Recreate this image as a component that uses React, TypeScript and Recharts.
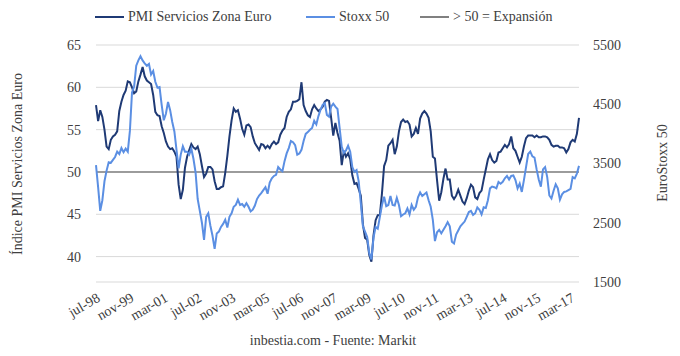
import React from 'react';
import { LineChart, Line, XAxis, YAxis, CartesianGrid, ReferenceLine } from 'recharts';

const MESES = ['ene', 'feb', 'mar', 'abr', 'may', 'jun', 'jul', 'ago', 'sep', 'oct', 'nov', 'dic'];

// PMI Servicios Zona Euro (jul-98 ... jul-17)
const pmi = [
  57.9, 56.0, 57.3, 56.5, 55.0, 53.0,
  52.7, 53.8, 54.2, 54.4, 54.8, 57.2, 58.3, 59.1, 59.6, 60.7, 60.6, 60.0,
  59.3, 59.5, 60.7, 61.5, 62.4, 61.3, 60.8, 60.6, 60.4, 59.1, 57.1, 56.7,
  56.6, 55.4, 54.6, 53.6, 53.0, 52.7, 52.8, 52.4, 51.8, 48.5, 46.8, 47.9,
  50.5, 51.8, 52.6, 53.3, 52.9, 52.7, 53.0, 52.1, 50.7, 49.4, 49.8, 50.6,
  50.6, 50.3, 48.9, 48.0, 48.0, 48.2, 48.3, 49.9, 51.9, 54.2, 56.1, 57.5,
  57.1, 57.3, 56.3, 55.1, 54.4, 55.5, 55.6, 55.3, 54.2, 53.4, 53.0, 52.6,
  53.3, 53.2, 52.8, 53.1, 52.8, 53.3, 53.6, 53.3, 53.5, 54.4, 54.9, 55.2,
  56.5, 57.1, 57.4, 58.3, 58.3, 58.4, 58.6, 60.6, 57.9, 57.2, 56.7, 56.5,
  57.4, 57.9, 57.5, 57.2, 57.4, 57.7, 58.3, 58.5, 58.4, 56.4, 54.3, 55.8,
  54.6, 53.7, 50.8, 52.5, 51.8, 52.2, 51.5, 49.6, 48.6, 48.7, 48.0, 47.2,
  43.8, 42.2, 42.0, 40.2, 39.4, 42.5, 44.3, 44.9, 44.9, 47.5, 50.7, 51.4,
  53.1, 53.4, 53.8, 52.1, 53.0, 54.8, 55.9, 56.2, 55.9, 56.0, 55.6, 54.2,
  54.5, 55.2, 54.5, 56.3, 56.9, 57.2, 56.9, 56.4, 54.8, 51.8, 51.6, 49.0,
  46.6, 47.6, 49.2, 50.4, 49.1, 49.1, 47.2, 46.8, 47.2, 47.9, 47.2, 46.5,
  46.2, 46.9, 47.8, 48.5, 48.2, 47.0, 46.8, 47.5, 47.8, 49.1, 50.3, 51.5,
  52.1, 51.4, 51.1, 51.3, 52.3, 52.4, 52.8, 53.2, 52.9, 53.3, 54.2, 52.8,
  52.5, 51.8, 51.1, 51.8, 53.0, 54.0, 54.3, 54.3, 54.3, 54.1, 54.3, 54.1,
  54.1, 54.2, 54.2, 54.1, 53.8, 53.2, 53.0, 53.1, 53.1, 52.9, 52.9, 52.8,
  52.3, 52.7, 53.5, 53.8, 53.6, 54.5, 56.4,
];

// Stoxx 50 (same months)
const stoxx = [
  3473, 3100, 2700, 2880, 3200, 3380,
  3520, 3510, 3560, 3610, 3700, 3660, 3760, 3690, 3750, 3700, 4050, 4700,
  4800, 5150, 5240, 5310, 5240, 5190, 5150, 5180, 5000, 5060, 4880, 4780,
  4790, 4490, 4230, 4340, 4540, 4400, 4200, 4040, 3730, 3420, 3650, 3790,
  3700, 3700, 3650, 3750, 3580, 3350, 2900, 2700, 2500, 2210, 2600, 2660,
  2450, 2280, 2060, 2320, 2350, 2430, 2480, 2550, 2420, 2600, 2660, 2770,
  2800, 2890, 2800, 2816, 2770, 2830, 2770, 2690, 2720, 2790, 2900, 2960,
  3000, 3050, 3100, 2990, 3180, 3250, 3290, 3310, 3440, 3400, 3370, 3540,
  3670, 3760, 3880, 3860, 3810, 3650, 3670, 3730, 3880, 4000, 4030, 4070,
  4100, 4220, 4160, 4300, 4410, 4490, 4520, 4320, 4290, 4460, 4510, 4460,
  4420, 4100, 3780, 3680, 3720, 3800, 3700, 3440, 3360, 3390, 3200, 2830,
  2440, 2350, 2260, 1990, 1880, 2250, 2430, 2400, 2600, 2800, 2940, 2780,
  2800, 2950, 2800, 2790, 2920, 2800, 2610, 2640, 2660, 2740, 2640, 2800,
  2720, 2770, 2930, 3010, 2950, 2980, 3010, 2880, 2770, 2550, 2190, 2340,
  2380, 2320, 2380, 2440, 2510, 2440, 2180, 2150, 2300, 2370, 2440, 2480,
  2520, 2600, 2680, 2700, 2630, 2660, 2760, 2720, 2640, 2760, 2750, 2880,
  3080, 3110, 3100, 3080, 3190, 3160, 3190, 3250, 3290, 3230, 3290, 3300,
  3220, 3080, 3160, 3020, 3220, 3440, 3660, 3700, 3620, 3600, 3400, 3230,
  3110, 3400, 3440, 3270, 2960, 2910, 3040, 3150, 3080, 2890, 2980, 3020,
  3030, 3050, 3070, 3270, 3250, 3330, 3460,
];

const pmiTicks = [40, 45, 50, 55, 60, 65];
const stoxxTicks = [1500, 2500, 3500, 4500, 5500];

const categorias = pmi.map((_, i) => {
  const m = 6 + i;
  const y = 1998 + Math.floor(m / 12);
  return `${MESES[m % 12]}-${String(y % 100).padStart(2, '0')}`;
});

const data = categorias.map((mes, i) => ({ mes, pmi: pmi[i], stoxx: stoxx[i] }));

const FONT = "'Liberation Serif', 'Times New Roman', serif";
const TXT = '#404040';
const DARK = '#1f3a75';
const LIGHT = '#5b8fe3';
const GREY = '#808080';

const legendItems = [
  { label: 'PMI Servicios Zona Euro', color: DARK, x: 95 },
  { label: 'Stoxx 50', color: LIGHT, x: 306 },
  { label: '> 50 = Expansión', color: GREY, x: 420 },
];

export default function App() {
  const tick = { fill: TXT, fontSize: 14, fontFamily: FONT };
  return (
    <div
      style={{
        position: 'absolute',
        left: 0,
        top: 0,
        width: 680,
        height: 356,
        background: '#fff',
        fontFamily: FONT,
        color: TXT,
        overflow: 'hidden',
      }}
    >
      <LineChart width={680} height={356} data={data} margin={{ top: 45, right: 0, bottom: 0, left: 0 }}>
        <CartesianGrid yAxisId="left" vertical={false} stroke="#d9d9d9" />
        <XAxis
          dataKey="mes"
          interval={15}
          height={74}
          axisLine={false}
          tickLine={false}
          tickSize={0}
          tickMargin={10}
          angle={-30}
          textAnchor="end"
          tick={tick}
        />
        <YAxis
          yAxisId="left"
          orientation="left"
          width={96}
          domain={[37, 65]}
          ticks={pmiTicks}
          axisLine={false}
          tickLine={false}
          tickSize={0}
          tickMargin={15}
          tick={tick}
          allowDataOverflow
        />
        <YAxis
          yAxisId="right"
          orientation="right"
          width={101}
          domain={[1500, 5500]}
          ticks={stoxxTicks}
          axisLine={false}
          tickLine={false}
          tickSize={0}
          tickMargin={14}
          tick={tick}
          allowDataOverflow
        />
        <ReferenceLine yAxisId="left" y={50} stroke={GREY} strokeWidth={1.5} />
        <Line
          yAxisId="left"
          dataKey="pmi"
          stroke={DARK}
          strokeWidth={2}
          dot={false}
          isAnimationActive={false}
        />
        <Line
          yAxisId="right"
          dataKey="stoxx"
          stroke={LIGHT}
          strokeWidth={2}
          dot={false}
          isAnimationActive={false}
        />
      </LineChart>

      {legendItems.map((it) => (
        <div key={it.label} style={{ position: 'absolute', left: it.x, top: 8, height: 18, display: 'flex', alignItems: 'center', whiteSpace: 'nowrap' }}>
          <div style={{ width: 29, height: 2, background: it.color, marginRight: 4 }} />
          <span style={{ fontSize: 14, lineHeight: '18px' }}>{it.label}</span>
        </div>
      ))}

      <div
        style={{
          position: 'absolute',
          left: 18,
          top: 164,
          transform: 'translate(-50%, -50%) rotate(-90deg)',
          whiteSpace: 'nowrap',
          fontSize: 14,
          lineHeight: 1,
        }}
      >
        Índice PMI Servicios Zona Euro
      </div>
      <div
        style={{
          position: 'absolute',
          left: 663,
          top: 163,
          transform: 'translate(-50%, -50%) rotate(-90deg)',
          whiteSpace: 'nowrap',
          fontSize: 14,
          lineHeight: 1,
        }}
      >
        EuroStoxx 50
      </div>
      <div
        style={{
          position: 'absolute',
          left: 333,
          top: 341,
          transform: 'translate(-50%, -50%)',
          whiteSpace: 'nowrap',
          fontSize: 14,
          lineHeight: 1,
        }}
      >
        inbestia.com - Fuente: Markit
      </div>
    </div>
  );
}
